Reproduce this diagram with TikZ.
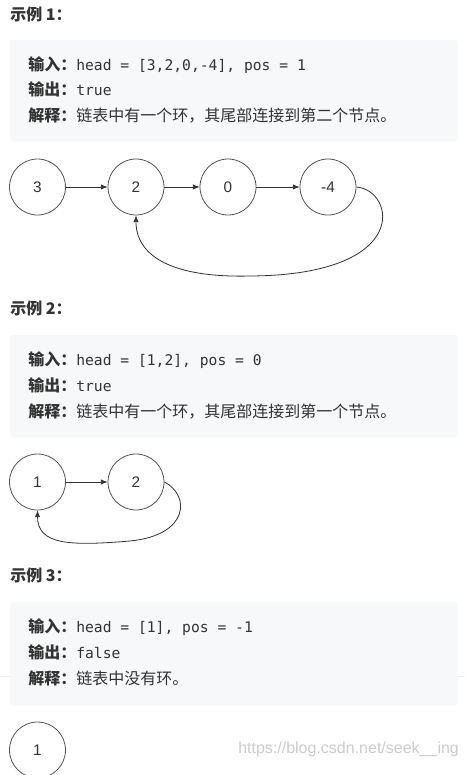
\documentclass[tikz,border=0pt]{standalone}
\usepackage{fontspec}
\setmainfont{Noto Sans CJK SC}
\newfontfamily\monof{DejaVu Sans Mono}
\newfontfamily\labf{Liberation Sans}
\usetikzlibrary{arrows.meta}
\definecolor{txt}{HTML}{333333}
\definecolor{boxbg}{HTML}{F7F8FA}
\definecolor{ring}{HTML}{555555}
\definecolor{wmc}{HTML}{CCCCCC}
\definecolor{rule}{HTML}{EEEEEE}
\begin{document}
\begin{tikzpicture}[x=0.75pt,y=-0.75pt,
  title/.style={anchor=base west,inner sep=0,font=\fontsize{12}{14}\selectfont\bfseries,text=txt},
  txtline/.style={anchor=base west,inner sep=0,font=\fontsize{12}{14}\selectfont,text=txt},
  panel/.style={fill=boxbg,rounded corners=2pt},
  ln/.style={circle,draw=ring,line width=0.6pt,minimum size=42pt,inner sep=0,font=\labf\fontsize{11.5}{13}\selectfont,text=txt},
  arr/.style={draw=txt,line width=0.6pt,-{Latex[length=5pt,width=4pt]}}]
\useasboundingbox (0,0) rectangle (465,775);
\fill[white] (0,0) rectangle (465,775);
% ---------- example 1
\node[title] (t1) at (10,20) {示例 1：};
\fill[panel] (10,40) rectangle (458,141);
\node[txtline] (l11) at (28,70) {\textbf{输入：}{\monof\fontsize{11}{13}\selectfont head = [3,2,0,-4], pos = 1}};
\node[txtline] (l12) at (28,95.5) {\textbf{输出：}{\monof\fontsize{11}{13}\selectfont true}};
\node[txtline] (l13) at (28,121) {\textbf{解释：}链表中有一个环，其尾部连接到第二个节点。};
\node[ln] (a3) at (37.5,187) {3};
\node[ln] (a2) at (136,187) {2};
\node[ln] (a0) at (228,187) {0};
\node[ln] (am4) at (328,187) {-4};
\draw[arr] (a3) -- (a2);
\draw[arr] (a2) -- (a0);
\draw[arr] (a0) -- (am4);
\coordinate (b1) at (250,276);
\draw[arr] (am4.east) .. controls (395,190) and (413,275) .. (b1) .. controls (170,278) and (136,255) .. (a2.south);
% ---------- example 2
\node[title] (t2) at (10,314) {示例 2：};
\fill[panel] (10,335) rectangle (458,437);
\node[txtline] (l21) at (28,365.5) {\textbf{输入：}{\monof\fontsize{11}{13}\selectfont head = [1,2], pos = 0}};
\node[txtline] (l22) at (28,391) {\textbf{输出：}{\monof\fontsize{11}{13}\selectfont true}};
\node[txtline] (l23) at (28,417) {\textbf{解释：}链表中有一个环，其尾部连接到第一个节点。};
\node[ln] (c1) at (37.5,482) {1};
\node[ln] (c2) at (136,482) {2};
\draw[arr] (c1) -- (c2);
\coordinate (b2) at (130,541);
\draw[arr] (c2.east) .. controls (190,495) and (190,535) .. (b2) .. controls (70,546) and (37.5,545) .. (c1.south);
% ---------- example 3
\node[title] (t3) at (10,581) {示例 3：};
\draw[rule,line width=0.75pt] (0,676) -- (465,676);
\fill[panel] (10,602) rectangle (458,705);
\node[txtline] (l31) at (28,632.5) {\textbf{输入：}{\monof\fontsize{11}{13}\selectfont head = [1], pos = -1}};
\node[txtline] (l32) at (28,658.5) {\textbf{输出：}{\monof\fontsize{11}{13}\selectfont false}};
\node[txtline] (l33) at (28,684.5) {\textbf{解释：}链表中没有环。};
\node[ln] (d1) at (37.5,750) {1};
\node[anchor=base west,inner sep=0,font=\labf\fontsize{12}{14}\selectfont,text=wmc] (wm) at (238,753) {https://blog.csdn.net/seek\_\_ing};
\end{tikzpicture}
\end{document}
